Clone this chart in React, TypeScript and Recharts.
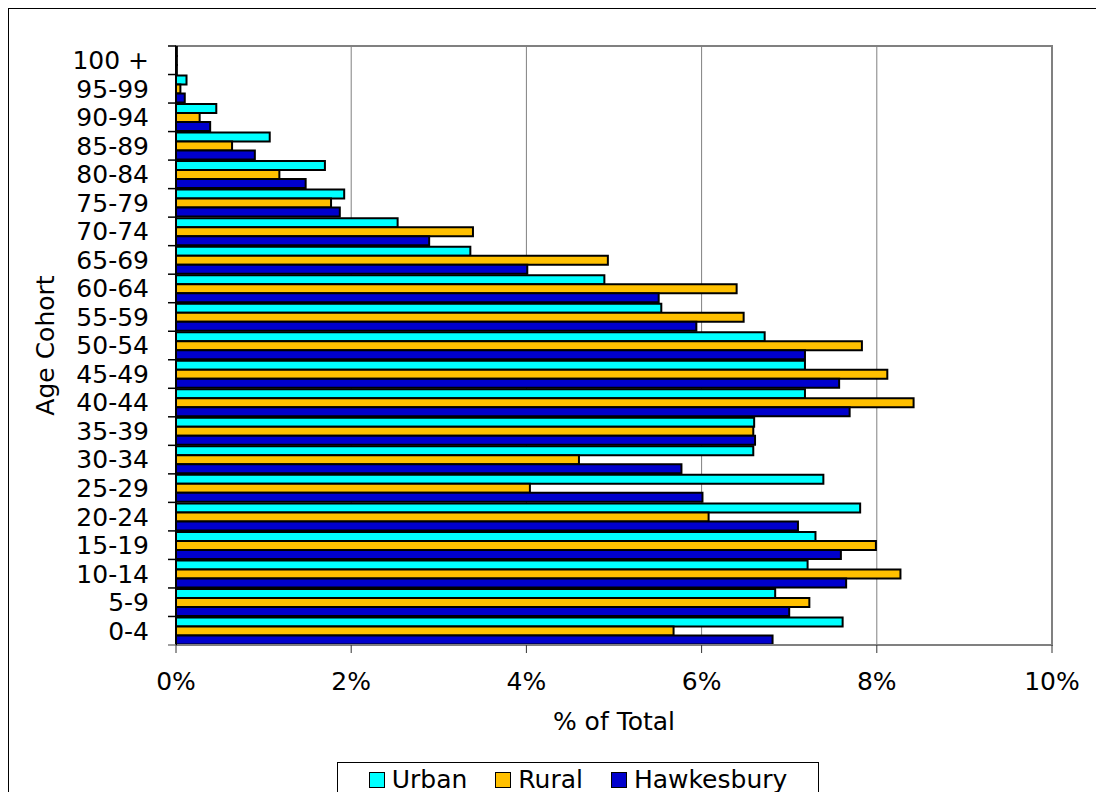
import React from 'react';
import { BarChart, Bar, XAxis, YAxis, CartesianGrid, Legend, ReferenceArea } from 'recharts';

// age cohorts, listed top to bottom as drawn
const cohorts = [
  '100 +', '95-99', '90-94', '85-89', '80-84', '75-79', '70-74', '65-69', '60-64', '55-59', '50-54',
  '45-49', '40-44', '35-39', '30-34', '25-29', '20-24', '15-19', '10-14', '5-9', '0-4',
];

// % of total population in each cohort
const urban = [0.01, 0.12, 0.46, 1.07, 1.7, 1.92, 2.53, 3.36, 4.89, 5.54, 6.72, 7.18, 7.18, 6.6, 6.59, 7.39, 7.81, 7.3, 7.21, 6.84, 7.61];
const rural = [0.01, 0.05, 0.27, 0.64, 1.18, 1.77, 3.39, 4.93, 6.4, 6.48, 7.83, 8.12, 8.42, 6.59, 4.6, 4.04, 6.08, 7.99, 8.27, 7.23, 5.68];
const hawkesbury = [0.01, 0.1, 0.39, 0.9, 1.48, 1.87, 2.89, 4.01, 5.51, 5.94, 7.18, 7.57, 7.69, 6.61, 5.77, 6.01, 7.1, 7.59, 7.65, 7.0, 6.81];

const seriesNames = ['Urban', 'Rural', 'Hawkesbury'];
const xTicks = [0, 2, 4, 6, 8, 10];

const data = cohorts.map((c, i) => ({
  cohort: c,
  Urban: urban[i],
  Rural: rural[i],
  Hawkesbury: hawkesbury[i],
}));

const FONT = '"DejaVu Sans", Verdana, sans-serif';
const TICK_SIZE = 8;
const TICK_MARGIN = 19;

// Excel style: label in the middle of the band, tick marks on the band edges
const CohortTick = (props: any) => {
  const { x, y, payload, index, visibleTicksCount } = props;
  const half = payload.offset || 0;
  const lx1 = x + TICK_MARGIN;
  const lx2 = lx1 + TICK_SIZE;
  return (
    <g>
      <text x={x} y={y} dy="0.355em" textAnchor="end" fontSize={25} fill="#000" fontFamily={FONT}>
        {payload.value}
      </text>
      <line x1={lx1} x2={lx2} y1={y - half} y2={y - half} stroke="#000" strokeWidth={1.5} />
      {index === visibleTicksCount - 1 && (
        <line x1={lx1} x2={lx2} y1={y + half} y2={y + half} stroke="#808080" strokeWidth={1.5} />
      )}
    </g>
  );
};

const LegendBox = (props: any) => {
  // vertical layout hands the payload back reversed, so put it in series order
  const items = [...(props.payload || [])].sort(
    (a: any, b: any) => seriesNames.indexOf(a.value) - seriesNames.indexOf(b.value)
  );
  return (
    <div
      style={{
        boxSizing: 'border-box',
        width: 482,
        height: 35,
        border: '1.5px solid #000',
        background: '#fff',
        display: 'flex',
        alignItems: 'center',
        justifyContent: 'center',
        gap: 28,
        fontFamily: FONT,
        fontSize: 25,
        color: '#000',
      }}
    >
      {items.map((p: any) => (
        <div key={p.value} style={{ display: 'flex', alignItems: 'center', gap: 7 }}>
          <span
            style={{
              display: 'inline-block',
              boxSizing: 'border-box',
              width: 16,
              height: 16,
              background: p.color,
              border: '1.5px solid #000',
            }}
          />
          <span style={{ lineHeight: '30px' }}>{p.value}</span>
        </div>
      ))}
    </div>
  );
};

const App: React.FC = () => {
  return (
    <div
      style={{
        width: 1095,
        height: 783,
        borderLeft: '1px solid #000',
        borderTop: '1px solid #000',
        background: '#fff',
        fontFamily: FONT,
        position: 'relative',
      }}
    >
      <BarChart
        width={1095}
        height={783}
        data={data}
        layout="vertical"
        margin={{ top: 37, right: 52, left: 0, bottom: 47 }}
        barCategoryGap={1}
        barGap={0}
      >
        <CartesianGrid horizontal={false} stroke="#808080" strokeWidth={1} />
        <XAxis
          type="number"
          domain={[0, 10]}
          ticks={xTicks}
          tickFormatter={(v: number) => `${v}%`}
          height={100}
          axisLine={{ stroke: '#808080', strokeWidth: 2 }}
          tickLine={{ stroke: '#333' }}
          tickSize={TICK_SIZE}
          tickMargin={TICK_MARGIN}
          tick={{ fontSize: 25, fill: '#000', fontFamily: FONT }}
          label={{
            content: (p: any) => {
              const vb = p.viewBox || { x: 167, y: 636, width: 876 };
              return (
                <text
                  x={vb.x + vb.width / 2}
                  y={vb.y + 76}
                  dy="0.355em"
                  textAnchor="middle"
                  fontSize={25}
                  fill="#000"
                  fontFamily={FONT}
                >
                  % of Total
                </text>
              );
            },
          }}
        />
        <YAxis
          type="category"
          dataKey="cohort"
          width={167}
          interval={0}
          axisLine={{ stroke: '#000', strokeWidth: 2 }}
          tickLine={false}
          tickSize={TICK_SIZE}
          tickMargin={TICK_MARGIN}
          tick={<CohortTick />}
          label={{
            content: (p: any) => {
              const vb = p.viewBox || { x: 0, y: 37, height: 599 };
              const cx = vb.x + 36;
              const cy = vb.y + vb.height / 2;
              return (
                <text
                  x={cx}
                  y={cy}
                  dy="0.355em"
                  textAnchor="middle"
                  fontSize={25}
                  fill="#000"
                  fontFamily={FONT}
                  transform={`rotate(-90 ${cx} ${cy})`}
                >
                  Age Cohort
                </text>
              );
            },
          }}
        />
        <ReferenceArea
          x1={0}
          x2={10}
          y1={cohorts[0]}
          y2={cohorts[cohorts.length - 1]}
          fill="none"
          fillOpacity={0}
          stroke="#808080"
          strokeWidth={2}
          ifOverflow="visible"
        />
        <Legend
          layout="horizontal"
          align="center"
          verticalAlign="middle"
          content={<LegendBox />}
          wrapperStyle={{ left: 328, top: 753, width: 482, height: 35, bottom: 'auto' }}
        />
        <Bar dataKey="Urban" fill="#00FFFF" stroke="#000" strokeWidth={2} isAnimationActive={false} />
        <Bar dataKey="Rural" fill="#FFC000" stroke="#000" strokeWidth={2} isAnimationActive={false} />
        <Bar dataKey="Hawkesbury" fill="#0000CC" stroke="#000" strokeWidth={2} isAnimationActive={false} />
      </BarChart>
    </div>
  );
};

export default App;
